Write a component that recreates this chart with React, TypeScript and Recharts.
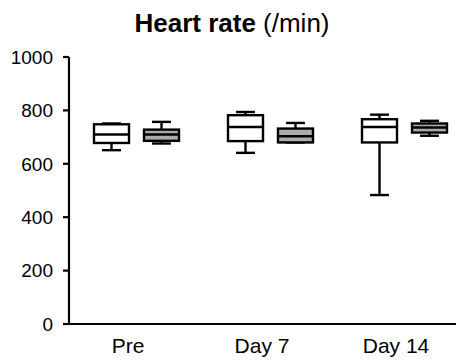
import React from "react";
import { BarChart, Bar, XAxis, YAxis } from "recharts";

const categories = ["Pre", "Day 7", "Day 14"];
// white boxes: [min, q1, median, q3, max]
const whiteMin = [651, 641, 483];
const whiteQ1 = [678, 685, 680];
const whiteMedian = [710, 738, 738];
const whiteQ3 = [748, 782, 767];
const whiteMax = [751, 794, 784];
// gray boxes
const grayMin = [676, 680, 705];
const grayQ1 = [686, 680, 717];
const grayMedian = [710, 703, 736];
const grayQ3 = [728, 732, 751];
const grayMax = [757, 753, 761];
const yTicks = [0, 200, 400, 600, 800, 1000];

const data = categories.map((c, i) => ({
  cat: c,
  w: { min: whiteMin[i], q1: whiteQ1[i], med: whiteMedian[i], q3: whiteQ3[i], max: whiteMax[i] },
  g: { min: grayMin[i], q1: grayQ1[i], med: grayMedian[i], q3: grayQ3[i], max: grayMax[i] },
}));

const FONT = '"Liberation Sans", Arial, Helvetica, sans-serif';

const makeBox = (key: "w" | "g", fill: string) => (props: any) => {
  const { x, y, width, height, payload } = props;
  const s = payload[key];
  const span = s.max - s.min;
  const py = (v: number) => y + ((s.max - v) / span) * height;
  const cx = x + width / 2;
  const capHalf = width * 0.27;
  const yMax = py(s.max);
  const yMin = py(s.min);
  const yQ3 = py(s.q3);
  const yQ1 = py(s.q1);
  const yMed = py(s.med);
  return (
    <g stroke="#000" strokeWidth={2.4} fill="none">
      <line x1={cx} x2={cx} y1={yMax} y2={yQ3} />
      <line x1={cx} x2={cx} y1={yQ1} y2={yMin} />
      <line x1={cx - capHalf} x2={cx + capHalf} y1={yMax} y2={yMax} />
      <line x1={cx - capHalf} x2={cx + capHalf} y1={yMin} y2={yMin} />
      <rect x={x} y={yQ3} width={width} height={Math.max(yQ1 - yQ3, 0.5)} fill={fill} />
      <line x1={x} x2={x + width} y1={yMed} y2={yMed} />
    </g>
  );
};

export default function App() {
  return (
    <div style={{ position: "relative", width: 456, height: 356, overflow: "hidden", fontFamily: FONT }}>
      <div
        style={{
          position: "absolute",
          left: 0,
          top: 0,
          width: 448,
          textAlign: "center",
          fontSize: 26,
          lineHeight: "30px",
          color: "#000",
        }}
      >
        <b>Heart rate</b> (/min)
      </div>
      <BarChart
        width={463}
        height={356}
        data={data}
        margin={{ top: 49, right: 0, left: 1, bottom: 10 }}
        barSize={35}
        barGap={15}
      >
        <XAxis
          dataKey="cat"
          height={30}
          axisLine={{ stroke: "#000", strokeWidth: 2.2 }}
          tickLine={false}
          tickSize={6}
          tickMargin={8}
          tick={{ fill: "#000", fontSize: 21, fontFamily: FONT, dx: -8 }}
          interval={0}
        />
        <YAxis
          width={60}
          domain={[0, 1000]}
          ticks={yTicks}
          interval={0}
          axisLine={{ stroke: "#000", strokeWidth: 2.2 }}
          tickLine={{ stroke: "#000", strokeWidth: 2.2 }}
          tickSize={6}
          tickMargin={10}
          tick={{ fill: "#000", fontSize: 19, fontFamily: FONT }}
        />
        <Bar
          dataKey={(d: any) => [d.w.min, d.w.max]}
          shape={makeBox("w", "#ffffff")}
          isAnimationActive={false}
        />
        <Bar
          dataKey={(d: any) => [d.g.min, d.g.max]}
          shape={makeBox("g", "#ababab")}
          isAnimationActive={false}
        />
      </BarChart>
    </div>
  );
}
